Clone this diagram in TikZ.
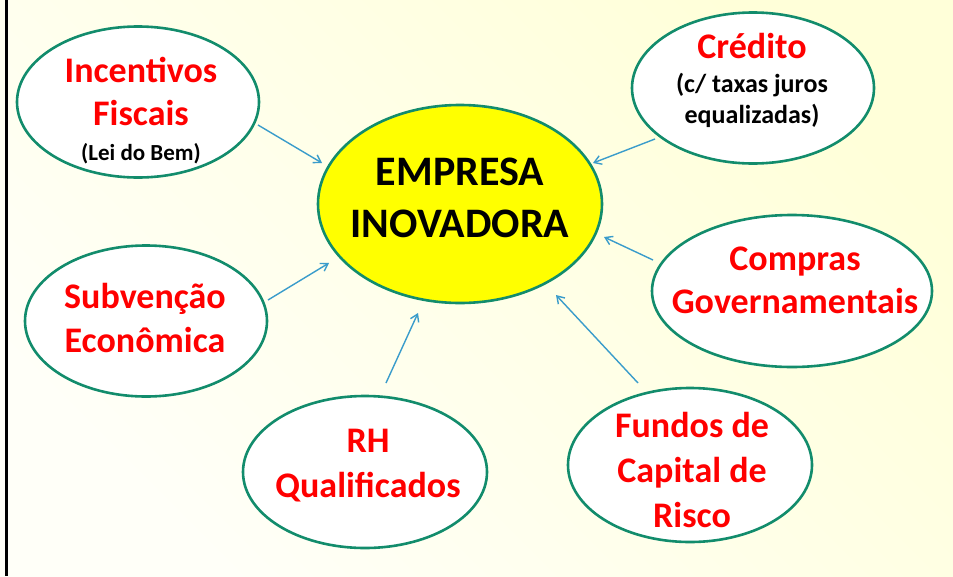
\documentclass[tikz,border=0pt]{standalone}
\usepackage{fontspec}
\setmainfont{Carlito}
\usetikzlibrary{shapes.geometric,arrows.meta}
\definecolor{bgA}{HTML}{FFFFD9}
\definecolor{bgB}{HTML}{FFFFF8}
\definecolor{rim}{HTML}{128C6C}
\definecolor{arr}{HTML}{3A9CCB}
\definecolor{lblred}{HTML}{FF0000}
\definecolor{hub}{HTML}{FFFF00}
\tikzset{
  bubble/.style={ellipse, draw=rim, line width=2.6pt, fill=white, inner sep=0pt,
    minimum width=242pt, minimum height=151pt},
  redlbl/.style={anchor=base, align=center, text=lblred, font=\bfseries\fontsize{36}{43}\selectfont},
  small/.style={font=\bfseries\fontsize{23}{29}\selectfont},
  feed/.style={draw=arr, line width=1.4pt, -{Straight Barb[length=7pt,width=9pt,line width=1.4pt]}},
}
\begin{document}
\begin{tikzpicture}[x=1pt,y=-1pt]
\shade[left color=bgA, right color=bgB, shading angle=-45] (0,0) rectangle (953,576);
\useasboundingbox (0,0) rectangle (953,576);
\draw[line width=3pt, black] (6.5,0) -- (6.5,576);

\node[ellipse, draw=rim, line width=2.6pt, fill=hub, inner sep=0pt,
  minimum width=284pt, minimum height=198pt] (hubn) at (460,204) {};
\node[font=\bfseries\fontsize{42}{52}\selectfont, align=center, anchor=base] (hubt) at (460,237) {EMPRESA\\INOVADORA};

\node[bubble] (inc) at (138,102) {};
\node[redlbl] (inct) at (141,125) {Incentivos\\Fiscais};
\node[anchor=base, small] (incs) at (141,160) {(Lei do Bem)};

\node[bubble] (cre) at (753,88) {};
\node[redlbl] (cret) at (752,58) {Crédito};
\node[anchor=base, align=center, font=\bfseries\fontsize{26}{31}\selectfont] (cres) at (752,123) {(c/ taxas juros\\equalizadas)};

\node[bubble, minimum width=280pt, minimum height=152pt] (com) at (792,291) {};
\node[redlbl] (comt) at (795,313) {Compras\\Governamentais};

\node[bubble, minimum width=244pt, minimum height=154pt] (fun) at (690,465) {};
\node[redlbl, font=\bfseries\fontsize{36}{45}\selectfont] (funt) at (692,527) {Fundos de\\Capital de\\Risco};

\node[bubble, minimum width=244pt, minimum height=152pt] (rh) at (365,472) {};
\node[redlbl, font=\bfseries\fontsize{36}{45}\selectfont] (rht) at (368,497) {RH\\Qualificados};

\node[bubble] (sub) at (146,321) {};
\node[redlbl, font=\bfseries\fontsize{36}{44}\selectfont] (subt) at (145,352) {Subvenção\\Econômica};

\coordinate (a1) at (258,125); \coordinate (b1) at (322,163);
\coordinate (a2) at (655,139); \coordinate (b2) at (593,163);
\coordinate (a3) at (653,260); \coordinate (b3) at (604,237);
\coordinate (a4) at (638,383); \coordinate (b4) at (556,295);
\coordinate (a5) at (386,383); \coordinate (b5) at (418,313);
\coordinate (a6) at (268,300); \coordinate (b6) at (329,263);
\foreach \i in {1,...,6} { \draw[feed] (a\i) -- (b\i); }
\end{tikzpicture}
\end{document}
